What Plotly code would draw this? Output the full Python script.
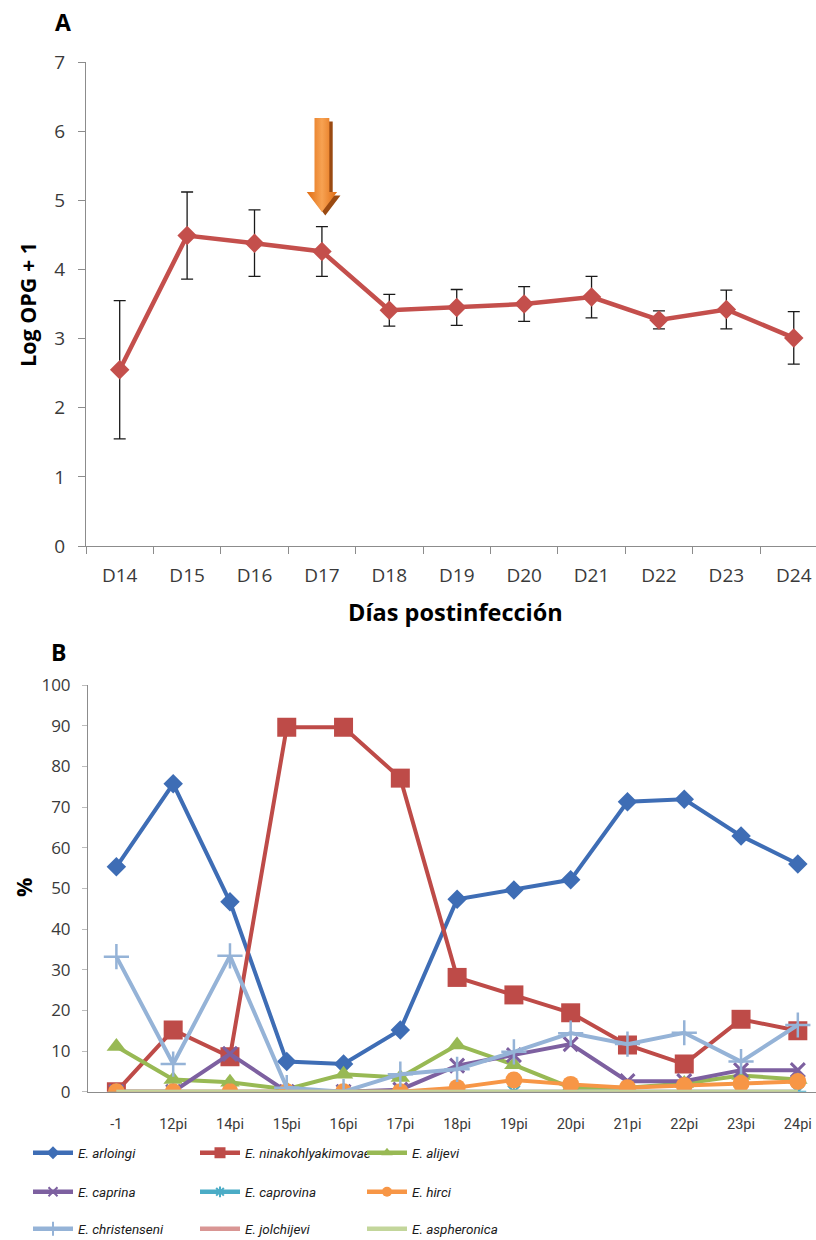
import plotly.graph_objects as go

# ---------------- Panel A: oocyst output (log OPG + 1) ----------------
days = ["D14", "D15", "D16", "D17", "D18", "D19", "D20", "D21", "D22", "D23", "D24"]
log_opg = [2.55, 4.49, 4.38, 4.26, 3.41, 3.45, 3.50, 3.60, 3.27, 3.42, 3.01]
log_opg_err = [1.00, 0.63, 0.48, 0.36, 0.23, 0.26, 0.25, 0.30, 0.13, 0.28, 0.38]

# ---------------- Panel B: species composition (%) ----------------
sample_days = ["-1", "12pi", "14pi", "15pi", "16pi", "17pi", "18pi",
               "19pi", "20pi", "21pi", "22pi", "23pi", "24pi"]
arloingi = [55.3, 75.7, 46.7, 7.4, 6.8, 15.2, 47.3, 49.6, 52.1, 71.3, 71.9, 62.9, 56.0]
ninakohlyakimovae = [0.0, 15.2, 8.6, 89.6, 89.6, 77.1, 28.1, 23.8, 19.4, 11.5, 6.8, 17.8, 15.0]
alijevi = [11.1, 3.0, 2.3, 0.6, 4.3, 3.5, 11.5, 6.6, 1.0, 1.0, 2.0, 4.0, 3.0]
caprina = [0.0, 0.0, 9.3, 0.0, 0.0, 0.5, 6.4, 9.0, 11.7, 2.6, 2.6, 5.3, 5.3]
caprovina = [0.0, 0.0, 0.0, 0.0, 0.0, 0.0, 0.0, 0.0, 0.0, 0.0, 0.0, 0.0, 0.0]
hirci = [0.0, 0.0, 0.0, 0.0, 0.0, 0.0, 1.0, 2.9, 1.8, 1.0, 1.5, 2.0, 2.5]
christenseni = [33.2, 6.8, 33.4, 1.0, 0.0, 4.3, 5.5, 9.8, 14.4, 11.7, 14.5, 7.4, 16.4]
jolchijevi = [0.0, 0.0, 0.0, 0.0, 0.0, 0.0, 0.0, 0.0, 0.0, 0.0, 0.0, 0.0, 0.0]
aspheronica = [0.0, 0.0, 0.0, 0.0, 0.0, 0.0, 0.0, 0.0, 0.0, 0.0, 0.0, 0.0, 0.0]

W, H = 816, 1240
TICK_FONT = "Open Sans, Lato, DejaVu Sans, sans-serif"
NARROW_FONT = "Roboto, Liberation Sans, sans-serif"
AXIS_GREY = "#8C8C8C"
TEXT_GREY = "#3A3A3A"


def px_x(p):
    return p / W


def px_y(p):
    return 1 - p / H


fig = go.Figure()

# Panel A series with error bars
fig.add_trace(go.Scatter(
    x=days, y=log_opg, mode="lines+markers",
    line=dict(color="#C44F4C", width=4.5),
    marker=dict(symbol="diamond", size=15, color="#C44F4C"),
    error_y=dict(type="data", array=log_opg_err, visible=True,
                 color="#1A1A1A", thickness=1.3, width=6),
    xaxis="x", yaxis="y", showlegend=False, hoverinfo="x+y",
))

# Panel B series: (name, values, colour, symbol, plot size, outline width, legend size, legend)
species = [
    ("E. arloingi", arloingi, "#3E6DB5", "diamond", 15, 0, 10, "legend"),
    ("E. ninakohlyakimovae", ninakohlyakimovae, "#BE4B48", "square", 19, 0, 11, "legend"),
    ("E. alijevi", alijevi, "#98B954", "triangle-up", 17, 0, 10, "legend"),
    ("E. caprina", caprina, "#7D60A0", "x-thin", 14, 3, 9, "legend2"),
    ("E. caprovina", caprovina, "#4BACC6", "asterisk", 14, 2, 9, "legend2"),
    ("E. hirci", hirci, "#F79646", "circle", 17, 0, 10, "legend2"),
    ("E. christenseni", christenseni, "#95B3D7", "cross-thin", 18, 2.5, 10, "legend3"),
    ("E. jolchijevi", jolchijevi, "#D99694", "circle", 0.1, 0, 0.1, "legend3"),
    ("E. aspheronica", aspheronica, "#C3D69B", "circle", 0.1, 0, 0.1, "legend3"),
]
for name, vals, color, sym, size, lw, lsize, leg in species:
    mk = dict(symbol=sym, size=size, color=color)
    lmk = dict(symbol=sym, size=lsize, color=color)
    if lw:
        mk["line"] = dict(color=color, width=lw)
        lmk["line"] = dict(color=color, width=min(lw, 2))
    fig.add_trace(go.Scatter(
        x=sample_days, y=vals, mode="lines+markers",
        name=name, legendgroup=name, showlegend=False,
        line=dict(color=color, width=4),
        marker=mk,
        xaxis="x2", yaxis="y2",
    ))
    # legend key with a smaller symbol (no data points of its own)
    fig.add_trace(go.Scatter(
        x=[None], y=[None], mode="lines+markers",
        name="<i>" + name + "</i>", legendgroup=name, legend=leg,
        line=dict(color=color, width=4.5), marker=lmk,
        xaxis="x2", yaxis="y2", hoverinfo="skip",
    ))

# Block arrow marking D17, drawn on an overlay axis sharing panel A's scale
arrow_cx = 3.0
shaft_hw, head_hw = 0.11, 0.225
y_top, y_neck, y_tip = 6.19, 5.12, 4.83
ax_ = [arrow_cx - shaft_hw, arrow_cx + shaft_hw, arrow_cx + shaft_hw, arrow_cx + head_hw,
       arrow_cx, arrow_cx - head_hw, arrow_cx - shaft_hw, arrow_cx - shaft_hw]
ay_ = [y_top, y_top, y_neck, y_neck, y_tip, y_neck, y_neck, y_top]
dx, dy = 0.05, -0.05
fig.add_trace(go.Scatter(
    x=[v + dx for v in ax_], y=[v + dy for v in ay_], fill="toself", mode="lines",
    line=dict(width=0), fillcolor="#9A4A12", xaxis="x3", yaxis="y3",
    showlegend=False, hoverinfo="skip",
))
fig.add_trace(go.Scatter(
    x=ax_, y=ay_, fill="toself", mode="lines", line=dict(width=0),
    fillgradient=dict(type="horizontal",
                      colorscale=[[0, "#E06C12"], [0.5, "#F7A252"], [1, "#E06C12"]]),
    xaxis="x3", yaxis="y3", showlegend=False, hoverinfo="skip",
))

A_dom_x = [px_x(86), 1.0]
A_dom_y = [px_y(546), px_y(62)]
B_dom_x = [px_x(88), 1.0]
B_dom_y = [px_y(1091.7), px_y(685)]
A_xrange = [-0.5, 10.33]
B_xrange = [-0.5, 12.32]

tick_font_A = dict(family=TICK_FONT, size=19, color=TEXT_GREY)
tick_font_B = dict(family=TICK_FONT, size=17, color=TEXT_GREY)

legend_common = dict(
    orientation="h", xanchor="left", yanchor="middle",
    font=dict(family=NARROW_FONT, size=13.5, color="#1A1A1A"),
    entrywidth=112, entrywidthmode="pixels", itemwidth=40,
    bgcolor="rgba(0,0,0,0)", tracegroupgap=0,
)

fig.update_layout(
    width=W, height=H,
    margin=dict(l=0, r=0, t=0, b=0, autoexpand=False),
    paper_bgcolor="white", plot_bgcolor="white",
    xaxis=dict(domain=A_dom_x, anchor="y", type="category", range=A_xrange,
               showline=True, linecolor=AXIS_GREY, linewidth=1,
               ticks="outside", tickson="boundaries", ticklen=7, tickcolor=AXIS_GREY,
               showgrid=False, zeroline=False, tickfont=tick_font_A,
               ticklabelstandoff=12, automargin=False),
    yaxis=dict(domain=A_dom_y, anchor="x", range=[0, 7], dtick=1,
               showline=True, linecolor=AXIS_GREY, linewidth=1,
               ticks="outside", ticklen=7, tickcolor=AXIS_GREY,
               showgrid=False, zeroline=False, tickfont=tick_font_A,
               ticklabelstandoff=9, automargin=False),
    xaxis2=dict(domain=B_dom_x, anchor="y2", type="category", range=B_xrange,
                showline=True, linecolor=AXIS_GREY, linewidth=1,
                ticks="", showgrid=False, zeroline=False,
                tickfont=dict(family=NARROW_FONT, size=14.5, color=TEXT_GREY),
                ticklabelstandoff=19, automargin=False),
    yaxis2=dict(domain=B_dom_y, anchor="x2", range=[0, 100], dtick=10,
                showline=True, linecolor=AXIS_GREY, linewidth=1,
                ticks="outside", ticklen=5, tickcolor="#BDBDBD",
                showgrid=False, zeroline=False, tickfont=tick_font_B,
                ticklabelstandoff=8, automargin=False),
    xaxis3=dict(domain=A_dom_x, anchor="y3", overlaying="x", range=A_xrange,
                visible=False, showgrid=False, zeroline=False),
    yaxis3=dict(domain=A_dom_y, anchor="x3", overlaying="y", range=[0, 7],
                visible=False, showgrid=False, zeroline=False),
    legend=dict(x=px_x(28), y=px_y(1153), **legend_common),
    legend2=dict(x=px_x(28), y=px_y(1192), **legend_common),
    legend3=dict(x=px_x(28), y=px_y(1229), **legend_common),
)


def label(text, x, y, size, angle=0):
    fig.add_annotation(text=text, x=px_x(x), y=px_y(y), xref="paper", yref="paper",
                       xanchor="center", yanchor="middle", textangle=angle,
                       showarrow=False,
                       font=dict(family=TICK_FONT, size=size, color="#000000"))


label("<b>A</b>", 63, 22, 23)
label("<b>B</b>", 58, 652, 23)
label("<b>Log OPG + 1</b>", 27, 305, 21.5, -90)
label("<b>Días postinfección</b>", 455, 612, 23.5)
label("<b>%</b>", 23, 888, 21.5, -90)

fig.write_html("out.html")
